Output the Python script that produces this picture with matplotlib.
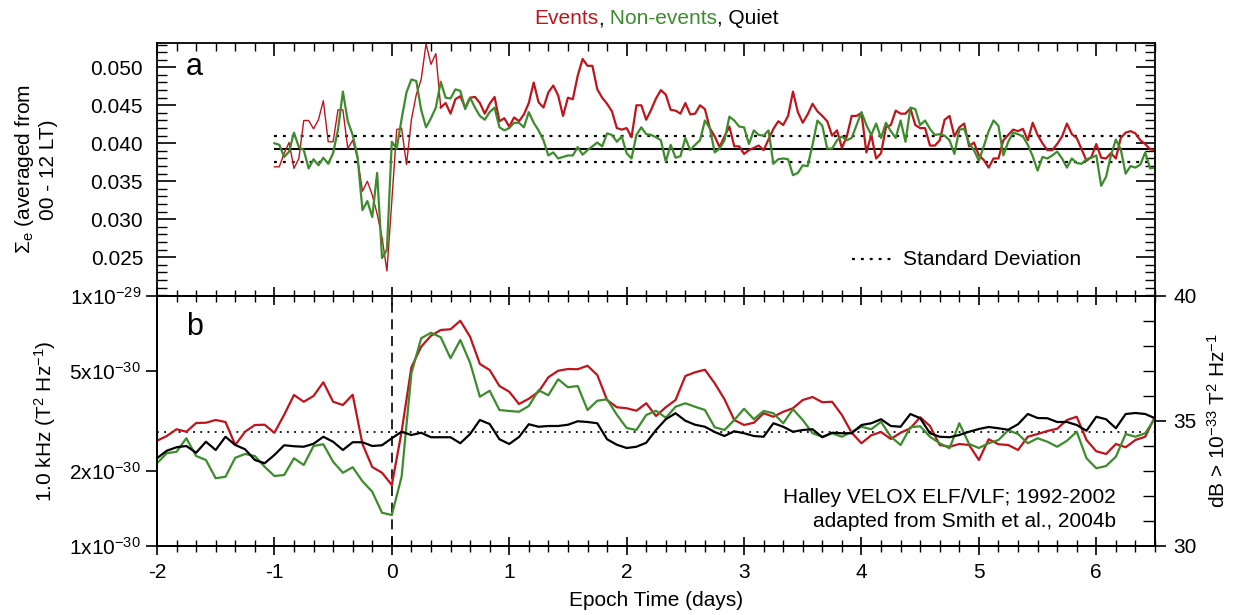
import matplotlib
matplotlib.use("Agg")
import matplotlib.pyplot as plt
import numpy as np
from matplotlib.ticker import MultipleLocator, FixedLocator, NullLocator, FormatStrFormatter
from matplotlib.offsetbox import TextArea, HPacker, AnchoredOffsetbox

plt.rcParams.update({
    "font.family": "Liberation Sans",
    "font.size": 15,
    "mathtext.fontset": "custom",
    "mathtext.rm": "Liberation Sans",
    "mathtext.it": "Liberation Sans:italic",
    "mathtext.bf": "Liberation Sans:bold",
    "axes.unicode_minus": False,
    "axes.linewidth": 1.3,
})

RED = "#c0141c"
GREEN = "#3c8c2c"

# ---- panel a: Sigma_e, hourly from day -1 (units of 1e-3) ----
sigma_events = np.array([
    36.9, 36.9, 38.7, 40.1, 36.7, 38.0, 43.0, 43.0, 41.9, 43.1,
    45.6, 40.2, 40.2, 44.4, 44.4, 39.3, 40.4, 38.0, 33.7, 35.0,
    33.2, 30.7, 27.6, 23.2, 32.4, 41.8, 42.0, 37.2, 43.1, 46.4,
    48.4, 53.1, 50.4, 51.8, 44.7, 45.3, 43.9, 45.8, 46.2, 44.7,
    46.0, 46.1, 45.3, 43.9, 45.2, 46.1, 42.9, 43.3, 42.2, 43.4,
    42.9, 43.8, 45.3, 48.0, 45.4, 44.7, 46.7, 47.6, 46.3, 43.6,
    46.0, 45.8, 48.9, 51.1, 50.2, 50.2, 47.1, 46.0,
    45.2, 44.2, 42.0, 41.8, 42.0, 40.8, 45.0, 45.0, 43.1, 44.4,
    45.9, 47.0, 46.4, 44.4, 44.3, 43.9, 45.3, 43.8, 43.9, 45.0,
    44.5, 42.0, 40.9, 39.5, 40.9, 42.2, 39.6, 39.6, 38.6, 39.1,
    39.4, 39.7, 39.1, 40.5, 41.9, 42.9, 42.4, 43.6, 46.8, 44.1,
    42.7, 43.8, 45.2, 44.2, 43.6, 42.9, 41.0, 41.7, 39.4, 40.9,
    43.6, 43.6, 44.0, 38.8, 41.1, 38.0, 38.7, 42.1, 42.4, 44.3,
    43.9, 43.9, 44.6, 42.4, 42.0, 42.0, 39.7, 39.7, 40.4, 43.1,
    43.6, 40.9, 42.1, 42.6, 39.6, 40.1, 38.4, 37.8, 36.8, 38.0,
    38.0, 40.4, 41.1, 41.8, 41.6, 41.9, 40.4, 42.7, 41.1, 40.0,
    39.1, 39.1, 39.9, 40.9, 42.6, 41.2, 40.7, 39.2, 37.7, 38.2,
    39.9, 38.1, 38.0, 38.7, 38.0, 40.7, 41.4, 41.6, 41.3, 40.4,
    39.9, 39.2, 39.1,
]) * 1e-3

sigma_nonevents = np.array([
    40.0, 39.8, 38.2, 38.9, 41.4, 39.5, 39.1, 36.7, 37.9, 37.1,
    38.1, 37.3, 38.7, 41.8, 46.8, 42.9, 41.1, 38.2, 31.2, 32.4,
    30.3, 36.1, 24.9, 26.0, 40.2, 39.3, 43.2, 46.7, 48.4, 48.2,
    44.4, 42.1, 43.3, 44.7, 48.1, 46.0, 45.9, 47.1, 46.9, 44.5,
    46.0, 44.7, 43.6, 43.1, 44.1, 44.7, 42.1, 41.7, 42.0, 42.7,
    42.7, 42.1, 44.1, 42.7, 41.7, 40.4, 38.4, 38.8, 38.0, 38.2,
    38.4, 38.4, 39.5, 38.5, 39.1, 39.6, 40.1, 39.6,
    41.3, 41.1, 40.2, 40.9, 38.7, 38.0, 41.1, 42.1, 41.2, 41.1,
    40.8, 40.4, 37.6, 39.8, 38.1, 38.3, 40.7, 39.1, 39.8, 40.4,
    43.0, 42.0, 38.8, 39.3, 40.4, 43.5, 43.0, 42.2, 42.1, 39.9,
    41.7, 41.1, 41.0, 41.7, 37.3, 37.9, 38.0, 37.9, 35.8, 36.1,
    37.1, 37.0, 39.8, 43.0, 42.3, 39.3, 39.3, 40.4, 40.9, 40.4,
    40.7, 42.4, 44.1, 42.4, 41.1, 42.6, 40.7, 42.7, 41.6, 40.7,
    43.0, 40.2, 44.7, 44.5, 42.4, 43.0, 41.9, 41.1, 41.2, 41.0,
    40.4, 38.6, 41.8, 41.9, 40.0, 39.1, 37.7, 39.6, 41.6, 43.0,
    42.3, 38.4, 40.2, 41.4, 41.2, 40.9, 39.8, 38.3, 36.4, 38.2,
    38.0, 38.4, 38.9, 38.0, 36.8, 38.0, 37.4, 37.3, 37.9, 38.1,
    38.4, 34.4, 35.6, 38.4, 40.5, 39.2, 36.0, 37.0, 36.8, 37.2,
    38.8, 36.7, 36.8,
]) * 1e-3

sigma_quiet_mean = 0.03925
sigma_quiet_std = 0.00173

# ---- panel b: 1.0 kHz power in dB > 1e-33 T^2/Hz, every 2 h from day -2 ----
db_events = np.array([
    34.21, 34.40, 34.67, 34.57, 34.92, 34.93, 35.04, 34.96, 34.04, 34.57,
    34.84, 34.85, 34.53, 35.25, 36.04, 35.77, 36.00, 36.55, 35.77, 35.64,
    36.05, 34.08, 33.16, 32.93, 32.44, 34.57, 37.15, 37.97, 38.41, 38.64,
    38.67, 39.01, 38.37, 37.28, 37.04, 36.40, 36.17, 35.68, 35.89, 36.17,
    36.75, 37.01, 37.08, 37.07, 37.21, 36.84, 35.84, 35.55, 35.51, 35.41,
    35.71, 35.20, 35.55, 35.84, 36.80, 36.95, 37.05, 36.51, 35.87, 35.04,
    34.84, 34.93, 35.31, 35.17, 35.37, 35.51, 35.84, 35.96, 35.75, 35.77,
    35.24, 34.53, 34.11, 34.43, 34.56, 34.28, 34.53, 34.71, 35.15, 34.80,
    34.04, 33.97, 34.08, 34.04, 33.44, 34.27, 34.07, 34.04, 33.84, 34.37,
    34.48, 34.60, 34.69, 35.04, 35.17, 34.24, 33.79, 33.68, 34.08, 33.95,
    34.24, 34.37, 35.17,
])

db_nonevents = np.array([
    33.31, 33.71, 33.77, 34.31, 33.60, 33.44, 32.71, 32.77, 33.53, 33.68,
    33.60, 33.17, 32.80, 32.84, 33.51, 33.24, 34.00, 34.07, 33.37, 32.93,
    33.15, 32.59, 32.17, 31.33, 31.24, 32.77, 36.91, 38.31, 38.53, 38.35,
    37.51, 38.24, 37.33, 35.97, 36.21, 35.44, 35.40, 35.37, 35.60, 36.23,
    36.03, 36.67, 36.35, 36.40, 35.44, 35.81, 35.87, 35.25, 34.72, 34.64,
    35.24, 35.41, 35.13, 35.57, 35.71, 35.57, 35.44, 34.75, 34.64, 35.04,
    35.49, 35.07, 35.40, 35.31, 34.91, 35.47, 35.04, 34.51, 34.37, 34.51,
    34.37, 34.57, 34.77, 34.67, 34.97, 34.37, 34.04, 34.75, 34.79, 34.37,
    34.11, 33.91, 34.91, 34.08, 33.92, 34.11, 34.24, 34.63, 34.48, 34.11,
    34.31, 34.17, 33.97, 34.21, 34.57, 33.51, 33.11, 33.20, 33.57, 34.48,
    34.37, 34.51, 35.11,
])

db_quiet = np.array([
    33.51, 33.81, 33.95, 34.00, 33.73, 34.17, 33.84, 34.37, 34.04, 33.87,
    33.44, 33.31, 33.64, 34.03, 33.99, 33.97, 34.09, 34.37, 34.17, 33.84,
    34.15, 34.15, 34.00, 34.03, 34.31, 34.57, 34.44, 34.53, 34.35, 34.35,
    34.35, 34.11, 34.48, 35.04, 34.88, 34.27, 34.08, 34.36, 34.87, 34.77,
    34.80, 34.80, 34.85, 34.99, 34.96, 34.91, 34.27, 34.05, 33.92, 33.97,
    34.13, 34.64, 35.07, 35.31, 35.01, 34.85, 34.77, 34.56, 34.40, 34.59,
    34.51, 34.40, 34.37, 34.91, 34.77, 34.57, 34.64, 34.67, 34.35, 34.53,
    34.51, 34.51, 34.84, 34.91, 35.07, 34.80, 34.77, 35.28, 35.11, 34.51,
    34.37, 34.35, 34.44, 34.57, 34.68, 34.76, 34.71, 34.65, 34.87, 35.28,
    35.12, 35.11, 34.96, 34.96, 34.84, 34.61, 35.17, 35.07, 34.71, 35.28,
    35.32, 35.28, 35.11,
])
db_quiet_level = 34.55

left_ticks = [1e-30, 2e-30, 5e-30, 1e-29]
left_ticklabels = ["1x10$^{-30}$", "2x10$^{-30}$", "5x10$^{-30}$", "1x10$^{-29}$"]

t_a_ev = -1 + np.arange(len(sigma_events)) / 24
t_a_ne = -1 + np.arange(len(sigma_nonevents)) / 24
t_b = -2 + np.arange(len(db_events)) / 12

fig = plt.figure(figsize=(12.41, 6.15), dpi=100)
ax_a = fig.add_axes([0.1265, 0.5187, 0.8042, 0.4114])
ax_b = fig.add_axes([0.1265, 0.1122, 0.8042, 0.4065])

# panel a
ax_a.hlines(sigma_quiet_mean, -1, 6.5, color="k", lw=1.5)
for s in (-1, 1):
    ax_a.hlines(sigma_quiet_mean + s * sigma_quiet_std, -1, 6.5, color="k",
                lw=1.6, linestyles=[(0, (1.3, 2.7))])
ax_a.plot(t_a_ev[:35], sigma_events[:35], color=RED, lw=1.0)
ax_a.plot(t_a_ev[34:], sigma_events[34:], color=RED, lw=1.6)
ax_a.plot(t_a_ne, sigma_nonevents, color=GREEN, lw=1.6)

ax_a.set_xlim(-2, 6.5)
ax_a.set_ylim(0.0199, 0.0532)
ax_a.xaxis.set_major_locator(MultipleLocator(1))
ax_a.xaxis.set_minor_locator(MultipleLocator(1 / 6))
ax_a.yaxis.set_major_locator(FixedLocator([0.025, 0.030, 0.035, 0.040, 0.045, 0.050]))
ax_a.yaxis.set_minor_locator(MultipleLocator(0.001))
ax_a.yaxis.set_major_formatter(FormatStrFormatter("%.3f"))
ax_a.tick_params(axis="x", which="both", direction="in", top=True, bottom=False,
                 labelbottom=False)
ax_a.tick_params(axis="x", which="major", length=9, width=1.2)
ax_a.tick_params(axis="x", which="minor", length=6, width=1.0)
ax_a.tick_params(axis="y", which="both", direction="in", left=True, right=True, pad=10)
ax_a.tick_params(axis="y", which="major", length=14, width=1.2)
ax_a.tick_params(axis="y", which="minor", length=7, width=1.0)
ax_a.set_ylabel("$\\Sigma_\\mathrm{e}$ (averaged from\n00 - 12 LT)", multialignment="center")
ax_a.yaxis.set_label_coords(-0.099, 0.5)
ax_a.text(0.029, 0.874, "a", transform=ax_a.transAxes, fontsize=22, va="baseline")
ax_a.plot([0.696, 0.739], [0.146, 0.146], transform=ax_a.transAxes, color="k",
          lw=1.6, ls=(0, (1.3, 2.7)))
ax_a.text(0.748, 0.146, "Standard Deviation", transform=ax_a.transAxes, va="center")

# title with coloured words
parts = [("Events", RED), (",", "k"), (" Non-events", GREEN), (", Quiet", "k")]
title_box = HPacker(children=[TextArea(s, textprops=dict(color=c, size=15)) for s, c in parts],
                    sep=0, pad=0, align="baseline")
ax_a.add_artist(AnchoredOffsetbox(loc="lower center", child=title_box, frameon=False,
                                  pad=0, borderpad=0.7, bbox_to_anchor=(0.5, 1.0),
                                  bbox_transform=ax_a.transAxes))

# panel b
ax_b.set_yscale("log")
ax_b.set_ylim(1e-30, 1e-29)
ax_b.set_xlim(-2, 6.5)
ax_b.yaxis.set_major_locator(FixedLocator(left_ticks))
ax_b.yaxis.set_major_formatter(plt.FixedFormatter(left_ticklabels))
ax_b.yaxis.set_minor_locator(NullLocator())
ax_b.tick_params(axis="y", which="major", direction="out", length=8, width=1.2, right=False)
ax_b.xaxis.set_major_locator(MultipleLocator(1))
ax_b.xaxis.set_minor_locator(MultipleLocator(1 / 6))
ax_b.tick_params(axis="x", which="both", direction="inout", top=True, pad=6)
ax_b.tick_params(axis="x", which="major", length=13, width=1.2)
ax_b.tick_params(axis="x", which="minor", length=8, width=1.0)
ax_b.set_ylabel("1.0 kHz (T$^2$ Hz$^{-1}$)")
ax_b.yaxis.set_label_coords(-0.099, 0.5)
ax_b.set_xlabel("Epoch Time (days)", labelpad=6)
ax_b.axvline(0, color="k", lw=1.2, ls=(0, (6, 4)))

ax_r = ax_b.twinx()
ax_r.set_ylim(30, 40)
ax_r.yaxis.set_major_locator(FixedLocator([30, 35, 40]))
ax_r.yaxis.set_minor_locator(MultipleLocator(1))
ax_r.tick_params(axis="y", which="major", direction="out", length=8, width=1.2, pad=5)
ax_r.tick_params(axis="y", which="minor", direction="in", length=9, width=1.0)
ax_r.set_ylabel("dB > 10$^{-33}$ T$^2$ Hz$^{-1}$")
ax_r.yaxis.set_label_coords(1.052, 0.5)

ax_r.axhline(db_quiet_level, color="k", lw=1.3, ls=(0, (1, 3)))
ax_r.plot(t_b, db_events, color=RED, lw=1.6)
ax_r.plot(t_b, db_nonevents, color=GREEN, lw=1.6)
ax_r.plot(t_b, db_quiet, color="k", lw=1.6)

ax_r.text(0.029, 0.844, "b", transform=ax_r.transAxes, fontsize=22, va="baseline")
ax_r.text(0.961, 0.172, "Halley VELOX ELF/VLF; 1992-2002", transform=ax_r.transAxes,
          ha="right", va="baseline")
ax_r.text(0.961, 0.076, "adapted from Smith et al., 2004b", transform=ax_r.transAxes,
          ha="right", va="baseline")

fig.savefig("out.png", dpi=100)
